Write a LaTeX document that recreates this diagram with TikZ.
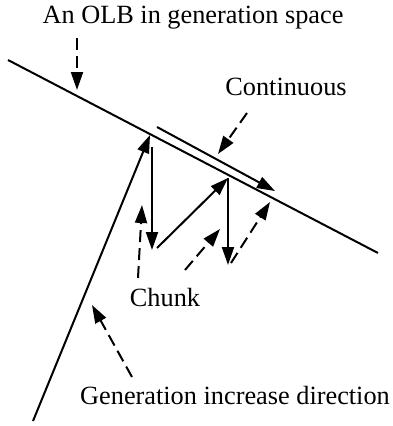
\documentclass[tikz,border=0pt]{standalone}
\usepackage{fontspec}
\setmainfont{Liberation Serif}
\usetikzlibrary{arrows.meta}

\begin{document}
\begin{tikzpicture}[x=1pt,y=-1pt,line width=2pt,
  tip/.style={-{Triangle[length=18pt,width=12pt]}},
  dsh/.style={tip,dash pattern=on 12pt off 6pt},
  lbl/.style={font=\fontsize{26.3}{30}\selectfont,inner sep=0pt}]
\useasboundingbox (0,0) rectangle (393,426);
\coordinate (olbL) at (8,60);
\coordinate (olbR) at (378,253);
\coordinate (base) at (33,421);
\coordinate (apex) at (150,135);
\coordinate (contS) at (157,127);
\coordinate (contE) at (275,191);
\coordinate (c1S) at (152,147);
\coordinate (c1E) at (152,250);
\coordinate (c2S) at (157,248);
\coordinate (c2E) at (228,178);
\coordinate (c3E) at (228,265);
\coordinate (c4S) at (231,263);
\coordinate (c4E) at (270,202);
\node[lbl] (olb) at (193,18) {An OLB in generation space};
\node[lbl] (cont) at (286,87) {Continuous};
\node[lbl] (chunk) at (165,297) {Chunk};
\node[lbl] (gen) at (235,395) {Generation increase direction};
\draw (olbL) -- (olbR);
\draw[tip] (base) -- (apex);
\draw[tip] (contS) -- (contE);
\draw[tip] (c1S) -- (c1E);
\draw[tip] (c2S) -- (c2E);
\draw[tip] (c2E) -- (c3E);
\draw[dsh] (c4S) -- (c4E);
\coordinate (olbA) at (77,38);
\coordinate (olbT) at (77,90);
\draw[dsh] (olbA) -- (olbT);
\coordinate (contA) at (247,113);
\coordinate (contT) at (218,154);
\draw[dsh] (contA) -- (contT);
\coordinate (chA) at (138,278);
\coordinate (chT) at (142,205);
\draw[dsh] (chA) -- (chT);
\coordinate (chB) at (185,270);
\coordinate (chU) at (220,229);
\draw[dsh] (chB) -- (chU);
\coordinate (genA) at (132,377);
\coordinate (genT) at (92,305);
\draw[dsh] (genA) -- (genT);
\end{tikzpicture}
\end{document}
